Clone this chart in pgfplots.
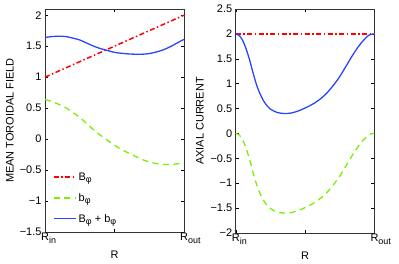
\documentclass[border=0pt]{standalone}
\usepackage{fontspec}
\setmainfont{Liberation Sans}
\usepackage{pgfplots}
\pgfplotsset{compat=1.18}
\definecolor{mgreen}{RGB}{120,240,0}
\definecolor{mblue}{RGB}{40,70,255}
\definecolor{mred}{RGB}{255,0,0}
\newcommand{\fs}{\fontsize{11}{13}\selectfont}
\newcommand{\sub}[1]{\raisebox{-0.45ex}{\fontsize{9}{10}\selectfont #1}}
\pgfplotsset{
  mystyle/.style={
    scale only axis,
    xmin=0, xmax=1,
    xtick={0,0.5,1},
    xticklabels={R\sub{in},{},R\sub{out}},
    xticklabel style={anchor=north west, xshift=-5bp, inner sep=1bp},
    tick align=inside,
    major tick length=3bp,
    tick style={black, line width=0.4bp},
    axis line style={line width=0.5bp, black!80},
    every tick label/.append style={font=\fs},
    label style={font=\fs},
    xlabel={R},
    xlabel style={at={(axis description cs:0.5,-0.1)}, anchor=center},
    clip=false,
  },
}
\begin{document}
\begin{tikzpicture}
\path[use as bounding box] (0,0) rectangle (399bp,264bp);
\begin{axis}[mystyle,
  at={(45bp,32bp)}, anchor=south west,
  width=139bp, height=223bp,
  ymin=-1.5, ymax=2.1,
  ytick={-1.5,-1,-0.5,0,0.5,1,1.5,2},
  yticklabels={−1.5,−1,−0.5,0,0.5,1,1.5,2},
  ylabel={MEAN TOROIDAL FIELD},
  ylabel style={at={(axis description cs:-0.252,0.5)}, anchor=center},
  legend style={at={(axis description cs:0.036,0.285)}, anchor=north west,
    draw=none, fill=none, font=\fs, row sep=7.5bp,
    legend cell align=left},
  legend image code/.code={\draw[#1] (0bp,0bp) -- (22bp,0bp);},
]
\addplot[color=mred, line width=1.5pt, dash pattern=on 5bp off 2.5bp on 1.5bp off 2.5bp] coordinates {(0,1) (1,2)};
\addlegendentry{B\sub{φ}}
\addplot[color=mgreen, line width=1.3pt, dash pattern=on 6bp off 4.5bp, smooth] coordinates {
(0,0.64) (0.05,0.605) (0.1,0.56) (0.15,0.505) (0.2,0.43) (0.25,0.35) (0.3,0.25)
(0.35,0.15) (0.4,0.06) (0.45,-0.02) (0.5,-0.10) (0.55,-0.165) (0.6,-0.225)
(0.65,-0.28) (0.7,-0.33) (0.75,-0.37) (0.8,-0.395) (0.85,-0.41) (0.9,-0.41)
(0.95,-0.40) (1,-0.39)};
\addlegendentry{b\sub{φ}}
\addplot[color=mblue, line width=1.3pt, smooth] coordinates {
(0,1.64) (0.05,1.655) (0.1,1.66) (0.15,1.655) (0.2,1.63) (0.25,1.60) (0.3,1.55)
(0.35,1.50) (0.4,1.46) (0.45,1.43) (0.5,1.40) (0.55,1.385) (0.6,1.375)
(0.65,1.37) (0.7,1.37) (0.75,1.38) (0.8,1.405) (0.85,1.44) (0.9,1.49)
(0.95,1.55) (1,1.61)};
\addlegendentry{B\sub{φ} + b\sub{φ}}
\end{axis}
\begin{axis}[mystyle,
  at={(235.7bp,31bp)}, anchor=south west,
  width=138.6bp, height=224bp,
  ymin=-2, ymax=2.5,
  ytick={-2,-1.5,-1,-0.5,0,0.5,1,1.5,2,2.5},
  yticklabels={−2,−1.5,−1,−0.5,0,0.5,1,1.5,2,2.5},
  ylabel={AXIAL CURRENT},
  ylabel style={at={(axis description cs:-0.258,0.5)}, anchor=center},
]
\addplot[color=mred, line width=1.5pt, dash pattern=on 5bp off 2.5bp on 1.5bp off 2.5bp] coordinates {(0,2) (0.5,2) (1,2)};
\addplot[color=mgreen, line width=1.3pt, dash pattern=on 6bp off 4.5bp, smooth] coordinates {
(0,0) (0.025,-0.03) (0.05,-0.13) (0.075,-0.30) (0.1,-0.52) (0.125,-0.78)
(0.15,-1.02) (0.175,-1.20) (0.2,-1.34) (0.225,-1.44) (0.25,-1.51) (0.275,-1.55)
(0.3,-1.58) (0.35,-1.60) (0.4,-1.59) (0.45,-1.55) (0.5,-1.49) (0.55,-1.42)
(0.6,-1.33) (0.65,-1.21) (0.7,-1.05) (0.75,-0.86) (0.8,-0.63) (0.85,-0.40)
(0.9,-0.20) (0.95,-0.05) (0.975,-0.01) (1,0)};
\addplot[color=mblue, line width=1.3pt, smooth] coordinates {
(0,2) (0.025,1.97) (0.05,1.87) (0.075,1.70) (0.1,1.48) (0.125,1.22)
(0.15,0.98) (0.175,0.80) (0.2,0.66) (0.225,0.56) (0.25,0.49) (0.275,0.45)
(0.3,0.42) (0.35,0.40) (0.4,0.41) (0.45,0.45) (0.5,0.51) (0.55,0.58)
(0.6,0.67) (0.65,0.79) (0.7,0.95) (0.75,1.14) (0.8,1.37) (0.85,1.60)
(0.9,1.80) (0.95,1.95) (0.975,1.99) (1,2)};
\end{axis}
\end{tikzpicture}
\end{document}
